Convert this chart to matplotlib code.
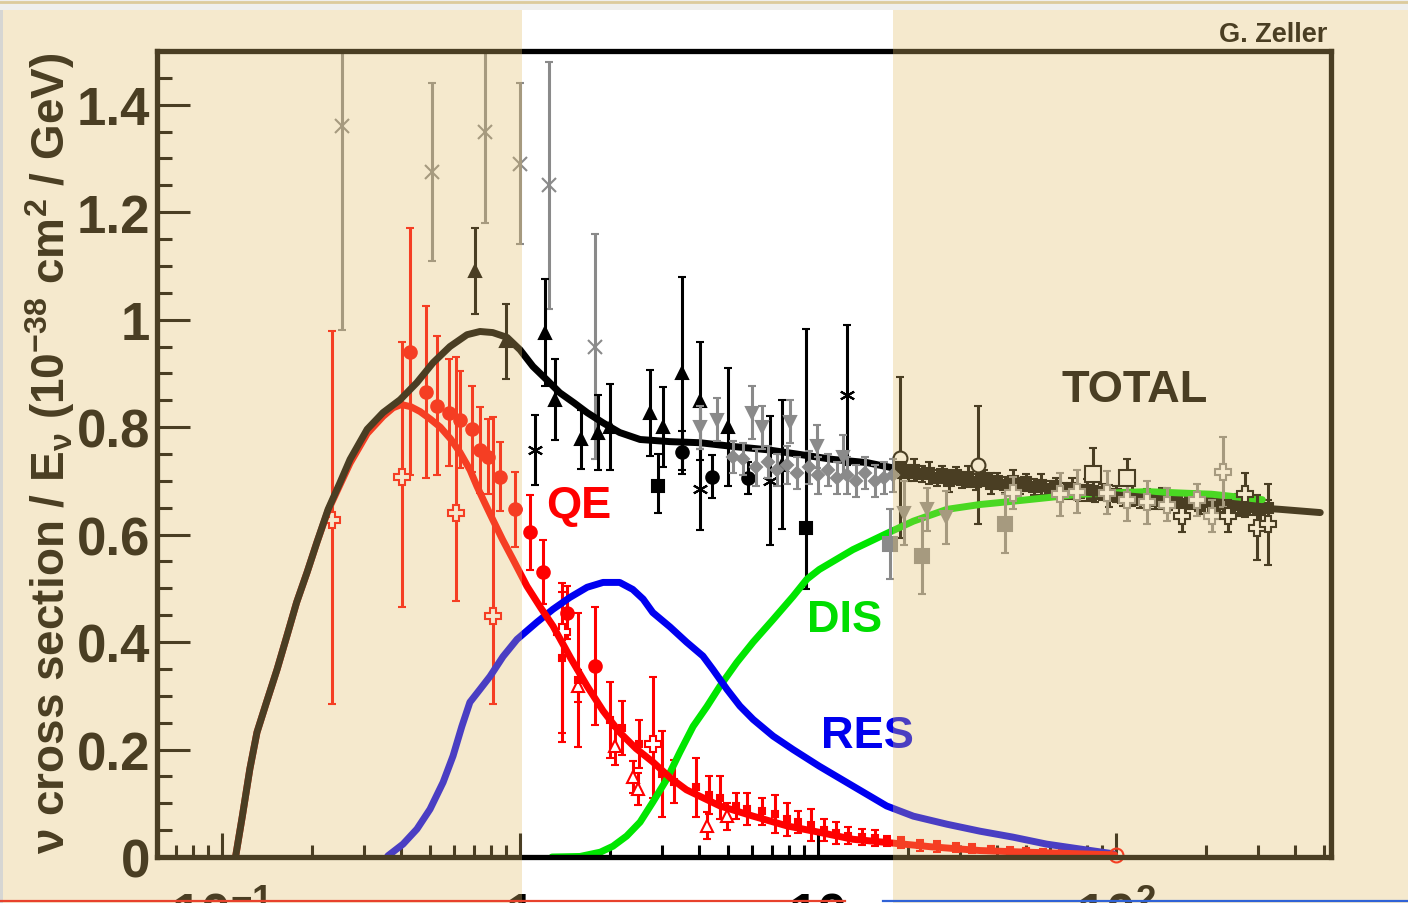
import numpy as np
import matplotlib
matplotlib.use("Agg")
import matplotlib.pyplot as plt
from matplotlib.patches import Rectangle
from matplotlib.lines import Line2D
from matplotlib.ticker import MultipleLocator, FixedLocator, NullFormatter

plt.rcParams['font.family'] = ['Liberation Sans', 'DejaVu Sans']
plt.rcParams['font.weight'] = 'bold'
plt.rcParams['mathtext.fontset'] = 'custom'
plt.rcParams['mathtext.rm'] = 'Liberation Sans:bold'
plt.rcParams['mathtext.it'] = 'Liberation Sans:bold'
plt.rcParams['mathtext.bf'] = 'Liberation Sans:bold'

# ---- model curves (E in GeV, sigma/E in 1e-38 cm^2/GeV)
total_E = [0.111, 0.117, 0.124, 0.131, 0.141, 0.153, 0.165, 0.178, 0.193, 0.208, 0.227, 0.249,
           0.269, 0.307, 0.347, 0.396, 0.451, 0.511, 0.582, 0.664, 0.734, 0.81, 0.905, 1.0, 1.105,
           1.23, 1.36, 1.52, 1.68, 1.90, 2.16, 2.53, 3.19, 4.02, 5.19, 6.74, 8.72, 11.2, 14.6,
           17.9, 27.0, 45.0, 75.0, 127.0, 211.0, 356.0, 485.0]
total_xs = [0.0, 0.076, 0.164, 0.232, 0.288, 0.349, 0.411, 0.474, 0.53, 0.585, 0.647, 0.697,
            0.74, 0.796, 0.827, 0.851, 0.883, 0.92, 0.95, 0.972, 0.978, 0.976, 0.967, 0.944, 0.913,
            0.888, 0.864, 0.845, 0.827, 0.808, 0.79, 0.777, 0.773, 0.771, 0.764, 0.758, 0.749, 0.74, 0.734,
            0.724, 0.705, 0.69, 0.68, 0.669, 0.656, 0.647, 0.641]

qe_E = [0.111, 0.117, 0.124, 0.131, 0.141, 0.153, 0.165, 0.178, 0.193, 0.208, 0.227, 0.249,
        0.269, 0.307, 0.347, 0.375, 0.40, 0.43, 0.462, 0.50, 0.54, 0.585, 0.629, 0.68, 0.717, 0.76,
        0.81, 0.875, 0.947, 1.055, 1.17, 1.29, 1.48, 1.68, 1.9, 2.16, 2.45, 2.79, 3.2, 3.62, 4.69,
        6.06, 7.86, 10.1, 13.1, 17.0, 24.0, 35.0, 50.0, 75.0, 99.0]
qe_xs = [0.0, 0.076, 0.164, 0.232, 0.288, 0.349, 0.411, 0.474, 0.53, 0.585, 0.645, 0.693,
         0.733, 0.788, 0.82, 0.836, 0.842, 0.838, 0.829, 0.815, 0.80, 0.778, 0.753, 0.72, 0.69, 0.66,
         0.628, 0.59, 0.554, 0.504, 0.465, 0.43, 0.37, 0.318, 0.272, 0.232, 0.202, 0.177, 0.147, 0.125, 0.095,
         0.076, 0.058, 0.046, 0.033, 0.027, 0.019, 0.012, 0.009, 0.006, 0.004]

res_E = [0.36, 0.405, 0.451, 0.499, 0.552, 0.596, 0.638, 0.679, 0.734, 0.793, 0.877, 0.977, 1.14,
         1.29, 1.47, 1.68, 1.90, 2.16, 2.39, 2.59, 2.79, 3.19, 3.62, 4.11, 4.44, 4.95, 5.47, 6.06,
         7.07, 8.25, 10.1, 13.1, 17.0, 20.9, 27.1, 35.0, 45.1, 58.5, 75.5, 98.0]
res_xs = [0.002, 0.024, 0.052, 0.089, 0.139, 0.188, 0.243, 0.288, 0.312, 0.336, 0.373, 0.405, 0.437,
          0.461, 0.483, 0.502, 0.511, 0.511, 0.498, 0.48, 0.455, 0.428, 0.40, 0.374, 0.349, 0.312, 0.281,
          0.256, 0.225, 0.20, 0.169, 0.132, 0.095, 0.076, 0.061, 0.048, 0.037, 0.024, 0.015, 0.006]

dis_E = [1.28, 1.59, 1.86, 2.05, 2.28, 2.53, 2.79, 3.11, 3.44, 3.81, 4.24, 4.69, 5.34, 6.06, 7.07,
         8.25, 9.18, 10.1, 13.1, 17.0, 20.9, 27.1, 35.0, 45.0, 75.5, 127.0, 211.0, 310.0]
dis_xs = [0.0, 0.001, 0.009, 0.02, 0.039, 0.065, 0.102, 0.145, 0.195, 0.243, 0.28, 0.318, 0.362, 0.40,
          0.442, 0.485, 0.517, 0.535, 0.572, 0.602, 0.625, 0.647, 0.656, 0.662, 0.675, 0.68, 0.675, 0.665]

# ---- data points
gray_x_E = [0.253, 0.507, 0.764, 1.0, 1.25, 1.79]
gray_x_xs = [1.36, 1.275, 1.35, 1.29, 1.25, 0.95]
gray_x_err = [0.38, 0.165, 0.17, 0.15, 0.23, 0.21]

star_E = [1.12, 4.02, 6.9, 12.5]
star_xs = [0.758, 0.684, 0.70, 0.86]
star_err = [0.065, 0.075, 0.12, 0.13]

tri_E = [0.706, 0.90, 1.21, 1.31, 1.60, 1.83, 2.0, 2.73, 3.02, 3.49, 4.02, 4.99, 7.57]
tri_xs = [1.09, 0.96, 0.976, 0.851, 0.777, 0.79, 0.80, 0.827, 0.80, 0.90, 0.848, 0.80, 0.73]
tri_err = [0.08, 0.07, 0.10, 0.075, 0.055, 0.07, 0.08, 0.08, 0.075, 0.18, 0.11, 0.11, 0.12]

dot_E = [3.49, 4.41, 5.82]
dot_xs = [0.753, 0.708, 0.706]
dot_err = [0.04, 0.04, 0.03]

sq_E = [2.90, 9.1]
sq_xs = [0.69, 0.613]
sq_lo = [0.05, 0.115]
sq_hi = [0.06, 0.37]

gdown_E = [4.02, 4.58, 6.0, 6.48, 8.05, 9.9, 12.1, 19.5, 23.2, 27.0]
gdown_xs = [0.80, 0.814, 0.827, 0.80, 0.81, 0.764, 0.745, 0.64, 0.647, 0.632]
gdown_err = [0.04, 0.04, 0.05, 0.04, 0.04, 0.04, 0.04, 0.06, 0.04, 0.05]

gband_E = [5.2, 5.6, 6.2, 6.8, 7.3, 7.9, 8.5, 9.3, 10.0, 10.8, 11.6, 12.5, 13.4, 14.4, 15.5, 16.6, 17.8]
gband_xs = [0.745, 0.74, 0.725, 0.735, 0.72, 0.73, 0.715, 0.725, 0.71, 0.72, 0.705, 0.71, 0.70, 0.715,
            0.70, 0.705, 0.71]
gband_err = [0.03, 0.03, 0.035, 0.03, 0.03, 0.035, 0.03, 0.03, 0.035, 0.03, 0.03, 0.035, 0.03, 0.03,
             0.03, 0.03, 0.03]

gsq_E = [17.5, 22.3, 42.4]
gsq_xs = [0.582, 0.56, 0.62]
gsq_err = [0.065, 0.07, 0.055]

ocirc_E = [18.8, 34.4]
ocirc_xs = [0.743, 0.73]
ocirc_err = [0.15, 0.11]

osq_E = [83.7, 109.0]
osq_xs = [0.712, 0.706]
osq_err = [0.05, 0.035]

gcross_E = [45.1, 64.9, 74.0, 93.3, 109.0, 127.0, 148.0, 187.0, 210.0, 228.0]
gcross_xs = [0.678, 0.675, 0.68, 0.678, 0.665, 0.66, 0.656, 0.665, 0.634, 0.717]
gcross_err = [0.03, 0.04, 0.04, 0.04, 0.04, 0.04, 0.03, 0.03, 0.03, 0.065]

bcross_E = [166.0, 238.0, 271.0, 297.0, 324.0]
bcross_xs = [0.634, 0.634, 0.675, 0.613, 0.619]
bcross_err = [0.03, 0.03, 0.04, 0.06, 0.075]

band_E = [19, 20, 21, 22.3, 23.5, 25, 26, 27.5, 29, 30.5, 32, 34, 36, 38, 40, 42.5, 45, 47.5, 50, 53,
          56, 60, 63, 67, 71, 75, 80, 85, 90, 95, 100, 106, 113, 120, 127, 135, 143, 151, 160, 170,
          180, 191, 203, 215, 228, 242, 256, 272, 288, 305, 324]
band_xs = [0.725, 0.715, 0.72, 0.712, 0.715, 0.705, 0.712, 0.70, 0.71, 0.702, 0.708, 0.698, 0.706, 0.695,
           0.70, 0.692, 0.70, 0.69, 0.697, 0.688, 0.693, 0.684, 0.69, 0.681, 0.686, 0.678, 0.683, 0.676,
           0.68, 0.672, 0.676, 0.668, 0.674, 0.665, 0.67, 0.662, 0.667, 0.66, 0.664, 0.657, 0.662, 0.654,
           0.66, 0.652, 0.657, 0.65, 0.655, 0.648, 0.652, 0.646, 0.65]
band_err = [0.02, 0.015, 0.02, 0.015, 0.02, 0.015, 0.015, 0.02, 0.015, 0.015, 0.02, 0.015, 0.015, 0.02,
            0.015, 0.015, 0.02, 0.015, 0.015, 0.015, 0.02, 0.015, 0.015, 0.015, 0.02, 0.015, 0.02,
            0.015, 0.015, 0.02, 0.015, 0.015, 0.02, 0.015, 0.015, 0.015, 0.02, 0.015, 0.015, 0.02,
            0.015, 0.015, 0.02, 0.015, 0.015, 0.015, 0.02, 0.015, 0.015, 0.02, 0.015]

rdot_E = [0.428, 0.484, 0.526, 0.578, 0.629, 0.69, 0.734, 0.781, 0.857, 0.962, 1.08, 1.19, 1.44, 1.79]
rdot_xs = [0.94, 0.866, 0.84, 0.827, 0.814, 0.796, 0.758, 0.745, 0.708, 0.647, 0.604, 0.53, 0.455, 0.355]
rdot_err = [0.23, 0.16, 0.13, 0.10, 0.09, 0.08, 0.08, 0.07, 0.065, 0.07, 0.07, 0.06, 0.05, 0.11]

rcross_E = [0.234, 0.402, 0.61, 0.81, 1.38, 2.79]
rcross_xs = [0.628, 0.708, 0.641, 0.448, 0.418, 0.21]
rcross_lo = [0.344, 0.243, 0.165, 0.164, 0.204, 0.10]
rcross_hi = [0.35, 0.251, 0.29, 0.37, 0.075, 0.125]

rtri_E = [1.57, 2.08, 2.39, 2.48, 4.24, 4.95]
rtri_xs = [0.318, 0.206, 0.149, 0.126, 0.058, 0.076]
rtri_err = [0.03, 0.035, 0.03, 0.03, 0.025, 0.025]

rmisc_E = [1.38, 1.57, 2.0, 2.2, 2.5, 3.0, 3.3, 3.9, 4.3, 4.7, 5.3, 5.8, 6.5, 7.2, 7.9, 8.6, 9.5,
           10.5, 11.5, 12.6, 14, 15.5, 17, 19, 22, 25, 29, 33, 38, 44, 50, 57, 66, 76, 88]
rmisc_xs = [0.37, 0.33, 0.255, 0.24, 0.21, 0.155, 0.14, 0.13, 0.115, 0.11, 0.095, 0.09, 0.085, 0.08,
            0.07, 0.065, 0.06, 0.05, 0.045, 0.04, 0.038, 0.035, 0.03, 0.027, 0.022, 0.02, 0.018,
            0.016, 0.014, 0.012, 0.011, 0.009, 0.008, 0.007, 0.005]
rmisc_err = [0.14, 0.125, 0.07, 0.05, 0.045, 0.08, 0.04, 0.055, 0.035, 0.04, 0.025, 0.03, 0.025, 0.035,
             0.03, 0.02, 0.03, 0.02, 0.02, 0.015, 0.015, 0.015, 0.01, 0.01, 0.01, 0.01, 0.008,
             0.008, 0.006, 0.006, 0.005, 0.005, 0.004, 0.004, 0.003]

rcirc_E = [100.0]
rcirc_xs = [0.003]

xtick_vals = [0.1, 1, 10, 100]
xtick_text = [r'$10^{-1}$', '1', '10', r'$10^{2}$']

BLACK = '#000000'
GRAY = '#8a8a8a'
RED = '#ff0000'

fig = plt.figure(figsize=(14.08, 9.04), dpi=100)
fig.patch.set_facecolor('white')
ax = fig.add_axes([157 / 1408, 1 - 858 / 904, (1331 - 157) / 1408, (858 - 52) / 904])
ax.set_xscale('log')
ax.set_xlim(0.0605, 527)
ax.set_ylim(0, 1.5)


def pts(E, xs, err, marker, color, ms=8, mfc=None, z=2, mew=1.5):
    ax.errorbar(E, xs, yerr=err, fmt='', marker=marker, linestyle='none', color=color, mec=color,
                mfc=color if mfc is None else mfc, ms=ms, mew=mew,
                elinewidth=2.2, capsize=3, capthick=2.2, zorder=z)


# data sets
pts(gray_x_E, gray_x_xs, gray_x_err, 'x', GRAY, ms=10, z=2)
pts(star_E, star_xs, star_err, (6, 2, 0), BLACK, ms=11, z=2)
pts(tri_E, tri_xs, tri_err, '^', BLACK, ms=8, z=2)
pts(dot_E, dot_xs, dot_err, 'o', BLACK, ms=9, z=2)
pts(sq_E, sq_xs, [sq_lo, sq_hi], 's', BLACK, ms=9, z=2)
pts(ocirc_E, ocirc_xs, ocirc_err, 'o', BLACK, ms=10, mfc='white', z=2)
pts(band_E, band_xs, band_err, 's', BLACK, ms=7, z=2)
pts(osq_E, osq_xs, osq_err, 's', BLACK, ms=11, mfc='white', z=4)
pts(gdown_E, gdown_xs, gdown_err, 'v', GRAY, ms=9, z=4)
pts(gband_E, gband_xs, gband_err, 'D', GRAY, ms=6, z=4)
pts(gsq_E, gsq_xs, gsq_err, 's', GRAY, ms=10, z=4)
pts(gcross_E, gcross_xs, gcross_err, 'P', GRAY, ms=11, mfc='white', z=4)
pts(bcross_E, bcross_xs, bcross_err, 'P', BLACK, ms=12, mfc='white', z=4)

pts(rdot_E, rdot_xs, rdot_err, 'o', RED, ms=9, z=2)
pts(rcross_E, rcross_xs, [rcross_lo, rcross_hi], 'P', RED, ms=11, mfc='white', z=2)
pts(rtri_E, rtri_xs, rtri_err, '^', RED, ms=9, mfc='white', z=2)
pts(rmisc_E, rmisc_xs, rmisc_err, 's', RED, ms=5, z=2)
ax.plot(rcirc_E, rcirc_xs, 'o', ms=10, mfc='none', mec=RED, mew=1.5, zorder=5, clip_on=False)

# model curves
lw = 5.0
ax.plot(dis_E, dis_xs, color='#00e600', lw=lw, zorder=3, solid_capstyle='round', solid_joinstyle='round')
ax.plot(res_E, res_xs, color='#0000f0', lw=lw, zorder=3, solid_capstyle='round', solid_joinstyle='round')
ax.plot(qe_E, qe_xs, color=RED, lw=lw, zorder=3, solid_capstyle='round', solid_joinstyle='round')
ax.plot(total_E, total_xs, color=BLACK, lw=lw, zorder=3, solid_capstyle='round', solid_joinstyle='round')

# labels on the plot
ax.text(1.58, 0.632, 'QE', color=RED, fontsize=32.5, ha='center', va='baseline', zorder=6)
ax.text(12.3, 0.42, 'DIS', color='#00dd00', fontsize=32.5, ha='center', va='baseline', zorder=6)
ax.text(14.7, 0.2045, 'RES', color='#0000ee', fontsize=32.5, ha='center', va='baseline', zorder=6)
ax.text(115.8, 0.848, 'TOTAL', color=BLACK, fontsize=32.5, ha='center', va='baseline', zorder=6)

# axes styling
for s in ax.spines.values():
    s.set_linewidth(3.8)
    s.set_color(BLACK)
    s.set_zorder(7)
ax.xaxis.set_major_locator(FixedLocator(xtick_vals))
ax.xaxis.set_minor_locator(FixedLocator([m * d for d in [0.01, 0.1, 1, 10, 100] for m in range(2, 10)]))
ax.xaxis.set_major_formatter(NullFormatter())
ax.xaxis.set_minor_formatter(NullFormatter())
ax.yaxis.set_major_locator(MultipleLocator(0.2))
ax.yaxis.set_minor_locator(MultipleLocator(0.05))
ax.yaxis.set_major_formatter(plt.FuncFormatter(lambda v, p: '0' if v == 0 else ('1' if abs(v - 1) < 1e-9 else f'{v:.1f}')))
ax.tick_params(axis='x', which='major', direction='in', length=17.5, width=2.2, top=False)
ax.tick_params(axis='x', which='minor', direction='in', length=9, width=2.2, top=False)
ax.tick_params(axis='y', which='major', direction='in', length=24, width=2.2, right=False,
               labelsize=38, pad=5)
ax.tick_params(axis='y', which='minor', direction='in', length=11, width=2.2, right=False)

# x tick labels sit low, their lower half is cut by the bottom edge just as in the slide
for v, t in zip(xtick_vals, xtick_text):
    ax.text(v, -0.0906, t, transform=ax.get_xaxis_transform(), ha='center', va='baseline',
            fontsize=38, clip_on=False)

fig.text(50 / 1408, 1 - 453 / 904,
         r'$\nu$ cross section / E$_{\nu}$ (10$^{-38}$ cm$^{2}$ / GeV)',
         rotation=90, ha='center', va='center', fontsize=33)
fig.text(1327 / 1408, 1 - 41.7 / 904, 'G. Zeller', ha='right', va='baseline', fontsize=19.5)

# tinted slide background: everything outside the 1..18 GeV window is washed in beige
tint = dict(transform=fig.transFigure, facecolor='#e1bd6a', alpha=1 / 3, edgecolor='none', zorder=100)
fig.add_artist(Rectangle((3 / 1408, 0), (522 - 3) / 1408, 1 - 11 / 904, **tint))
fig.add_artist(Rectangle((893 / 1408, 0), (1408 - 893) / 1408, 1 - 11 / 904, **tint))

# screenshot border bits
fig.add_artist(Rectangle((0, 1 - 11 / 904), 1, 11 / 904, transform=fig.transFigure,
                         facecolor='#efefed', edgecolor='none', zorder=101))
fig.add_artist(Rectangle((0, 0), 3 / 1408, 1 - 11 / 904, transform=fig.transFigure,
                         facecolor='#d6d6d3', edgecolor='none', zorder=101))
fig.add_artist(Line2D([0, 1], [1 - 2.5 / 904] * 2, transform=fig.transFigure,
                      color='#dccb9c', lw=2, zorder=102))
fig.add_artist(Line2D([0, 845 / 1408], [2 / 904] * 2, transform=fig.transFigure,
                      color='#e8412c', lw=1.6, zorder=102))
fig.add_artist(Line2D([883 / 1408, 1], [2 / 904] * 2, transform=fig.transFigure,
                      color='#2f62d6', lw=1.6, zorder=102))

fig.savefig('out.png', dpi=100)
